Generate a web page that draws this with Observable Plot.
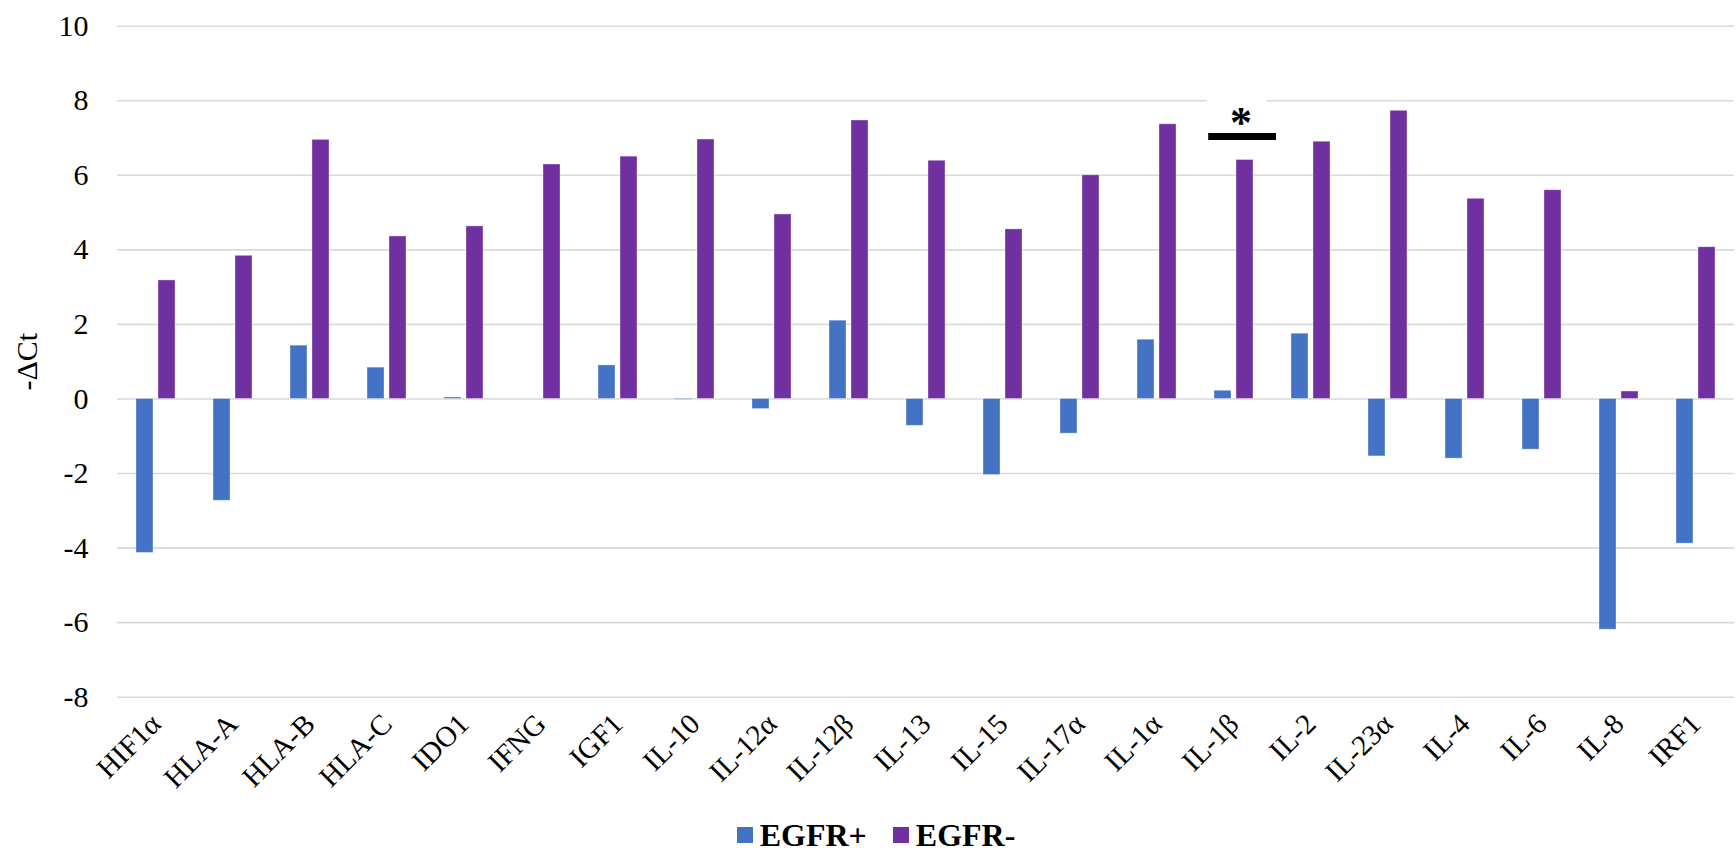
<!DOCTYPE html>
<html>
<head>
<meta charset="utf-8">
<script src="https://cdn.jsdelivr.net/npm/d3@7"></script>
<script src="https://cdn.jsdelivr.net/npm/@observablehq/plot@0.6"></script>
<style>
  html, body { margin: 0; padding: 0; background: #fff; overflow: hidden; }
  #wrap { position: relative; width: 1736px; height: 851px; }
  #chart svg { display: block; }
  #chart svg text { font-family: "Liberation Serif", "Times New Roman", serif !important; font-variant: normal !important; }
  #legend { position: absolute; left: 0; top: 817px; width: 1736px; height: 36px; display: flex; justify-content: center; align-items: center; padding-left: 16px; box-sizing: border-box;
    font-family: "Liberation Serif", "Times New Roman", serif; font-weight: bold; font-size: 32px; color: #000; line-height: 36px; }
  .item { display: flex; align-items: center; margin: 0 13px; }
  .sw { width: 16px; height: 16px; margin-right: 7px; }
</style>
</head>
<body>
<div id="wrap">
<div id="chart"></div>
<div id="legend"></div>
</div>
<script>
const categories = ["HIF1α","HLA-A","HLA-B","HLA-C","IDO1","IFNG","IGF1","IL-10","IL-12α","IL-12β","IL-13","IL-15","IL-17α","IL-1α","IL-1β","IL-2","IL-23α","IL-4","IL-6","IL-8","IRF1"];
const seriesNames = ["EGFR+", "EGFR-"];
const seriesColors = ["#4472C4", "#7030A0"];
const egfrPos = [-4.13,-2.73,1.43,0.84,0.04,0.0,0.9,-0.02,-0.27,2.1,-0.72,-2.04,-0.93,1.59,0.22,1.75,-1.54,-1.6,-1.36,-6.19,-3.88];
const egfrNeg = [3.18,3.84,6.95,4.36,4.63,6.29,6.5,6.96,4.95,7.47,6.39,4.55,6.0,7.37,6.41,6.9,7.73,5.37,5.6,0.2,4.07];
const yTicks = [-8,-6,-4,-2,0,2,4,6,8,10];
const sigGene = "IL-1β";
const sigBarY = 7.04;
const sigStarY = 7.57;
const sigLabel = "*";

const data = [];
categories.forEach((c, i) => {
  data.push({cat: c, series: seriesNames[0], value: egfrPos[i]});
  data.push({cat: c, series: seriesNames[1], value: egfrNeg[i]});
});

const font = "Liberation Serif";

const chart = Plot.plot({
  width: 1736,
  height: 800,
  marginLeft: 114,
  marginRight: 0,
  marginTop: 25.7,
  marginBottom: 103.3,
  style: {fontFamily: font, fontSize: "30px", color: "#000", background: "#fff"},
  fx: {domain: categories, padding: 0, axis: null, label: null},
  x: {domain: seriesNames, paddingInner: 0.22, paddingOuter: 0.83, axis: null},
  y: {domain: [-8, 10], ticks: yTicks, label: null, axis: null},
  color: {domain: seriesNames, range: seriesColors},
  marks: [
    Plot.gridY(yTicks, {stroke: "#d9d9d9", strokeOpacity: 1, strokeWidth: 1.6}),
    Plot.ruleY([{cat: sigGene, y: 8}], {fx: "cat", y: "y", stroke: "#fff", strokeWidth: 5, insetLeft: 12, insetRight: 6}),
    Plot.barY(data, {fx: "cat", x: "series", y: "value", fill: "series", stroke: "#ffffff", strokeOpacity: 0.35, strokeWidth: 1}),
    Plot.ruleY([{cat: sigGene, y: sigBarY}], {fx: "cat", y: "y", stroke: "#000", strokeWidth: 7, insetLeft: 9.2, insetRight: 0, dx: 4}),
    Plot.text([{cat: sigGene, y: sigStarY, t: sigLabel}], {fx: "cat", y: "y", text: "t", fontFamily: font, fontSize: 44, fontWeight: "bold", fill: "#000", dx: 7, dy: 6, lineAnchor: "middle"}),
    Plot.axisY({ticks: yTicks, tickSize: 0, tickPadding: 29, tickFormat: d => String(d), label: "-ΔCt", labelAnchor: "center", labelArrow: "none", labelOffset: 102, fontFamily: font, fontSize: 30}),
    Plot.axisFx({anchor: "bottom", tickSize: 0, tickRotate: -45, tickPadding: 22, label: null, fontFamily: font, fontSize: 29})
  ]
});
document.getElementById("chart").appendChild(chart);

const legend = document.getElementById("legend");
seriesNames.forEach((s, i) => {
  const it = document.createElement("div");
  it.className = "item";
  const sw = document.createElement("div");
  sw.className = "sw";
  sw.style.background = seriesColors[i];
  const tx = document.createElement("span");
  tx.textContent = s;
  it.appendChild(sw); it.appendChild(tx);
  legend.appendChild(it);
});
</script>
</body>
</html>
